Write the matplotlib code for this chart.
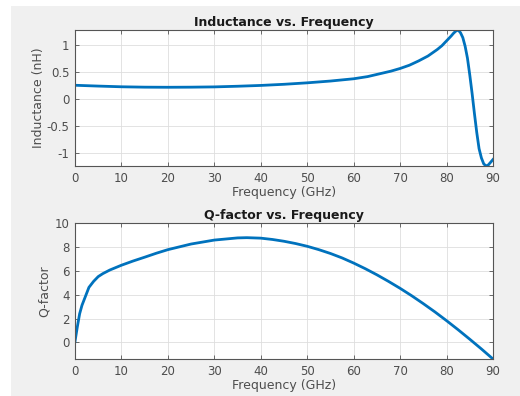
import matplotlib
matplotlib.use("Agg")
import matplotlib.pyplot as plt
from matplotlib.patches import Rectangle

# Data
freq_L = [0, 5, 10, 15, 20, 25, 30, 35, 40, 45, 50, 55, 60, 63, 66, 68, 70, 72, 74, 76, 77, 78, 79,
          80, 81, 81.5, 82, 82.5, 83, 83.5, 84, 84.5, 85, 85.5, 86, 86.5, 87, 87.5, 88, 88.5, 89, 89.5, 90]
inductance = [0.25, 0.235, 0.222, 0.215, 0.213, 0.215, 0.22, 0.232, 0.247, 0.268, 0.295, 0.328, 0.37,
              0.41, 0.47, 0.51, 0.56, 0.62, 0.70, 0.79, 0.85, 0.91, 0.98, 1.07, 1.16, 1.21, 1.25, 1.27,
              1.22, 1.13, 0.97, 0.75, 0.44, 0.10, -0.27, -0.62, -0.92, -1.09, -1.20, -1.24, -1.22, -1.17, -1.12]

freq_Q = [0, 0.5, 1, 1.5, 2, 2.5, 3, 4, 5, 6, 7.5, 10, 12.5, 15, 17.5, 20, 25, 30, 35, 37, 40, 42.5,
          45, 47.5, 50, 52.5, 55, 57.5, 60, 62.5, 65, 67.5, 70, 72.5, 75, 77.5, 80, 82.5, 85, 87.5, 90]
qfactor = [0.08, 1.3, 2.4, 3.1, 3.6, 4.1, 4.6, 5.1, 5.5, 5.75, 6.05, 6.45, 6.8, 7.12, 7.45, 7.75, 8.22,
           8.55, 8.73, 8.75, 8.71, 8.6, 8.45, 8.26, 8.03, 7.75, 7.43, 7.06, 6.63, 6.16, 5.65, 5.1, 4.52,
           3.9, 3.24, 2.55, 1.82, 1.06, 0.27, -0.54, -1.38]

xticks = [0, 10, 20, 30, 40, 50, 60, 70, 80, 90]
yticks_L = [-1, -0.5, 0, 0.5, 1]
yticks_Q = [0, 2, 4, 6, 8, 10]

plt.rcParams['font.family'] = ['DejaVu Sans']
line_color = '#0072BD'
text_color = '#4d4d4d'

fig = plt.figure(figsize=(5.2, 3.96), dpi=100, facecolor='white')
W, H = 520, 396
fig.patches.append(Rectangle((11 / W, 0), 1 - 11 / W, 1 - 6 / H, transform=fig.transFigure,
                             facecolor='#f0f0f0', edgecolor='none', zorder=-10))

def make_ax(top_px, bottom_px):
    return fig.add_axes([75 / W, 1 - bottom_px / H, (493 - 75) / W, (bottom_px - top_px) / H])

ax1 = make_ax(30, 166)
ax2 = make_ax(222.7, 359)

def style(ax, title, ylabel, yticks, yticklabels, labelpad):
    ax.set_facecolor('white')
    ax.set_xlim(0, 90)
    ax.set_xticks(xticks)
    ax.set_yticks(yticks)
    ax.set_yticklabels(yticklabels)
    ax.grid(True, color='#dedede', linewidth=0.6)
    ax.set_axisbelow(True)
    ax.tick_params(direction='in', top=True, right=True, length=3, width=0.6,
                   colors='#555555', labelsize=8.5, labelcolor=text_color, pad=4)
    for s in ax.spines.values():
        s.set_color('#555555')
        s.set_linewidth(0.8)
    ax.set_title(title, fontsize=9, fontweight='bold', color='#1a1a1a', pad=3)
    ax.set_xlabel('Frequency (GHz)', fontsize=9, color=text_color, labelpad=1)
    ax.set_ylabel(ylabel, fontsize=9, color=text_color, labelpad=labelpad)

ax1.plot(freq_L, inductance, color=line_color, linewidth=2)
ax1.set_ylim(min(inductance), max(inductance))
style(ax1, 'Inductance vs. Frequency', 'Inductance (nH)', yticks_L, ['-1', '-0.5', '0', '0.5', '1'], 1)

ax2.plot(freq_Q, qfactor, color=line_color, linewidth=2)
ax2.set_ylim(min(qfactor), 10)
style(ax2, 'Q-factor vs. Frequency', 'Q-factor', yticks_Q, [str(v) for v in yticks_Q], 3)

fig.savefig('out.png', dpi=100, facecolor=fig.get_facecolor())
